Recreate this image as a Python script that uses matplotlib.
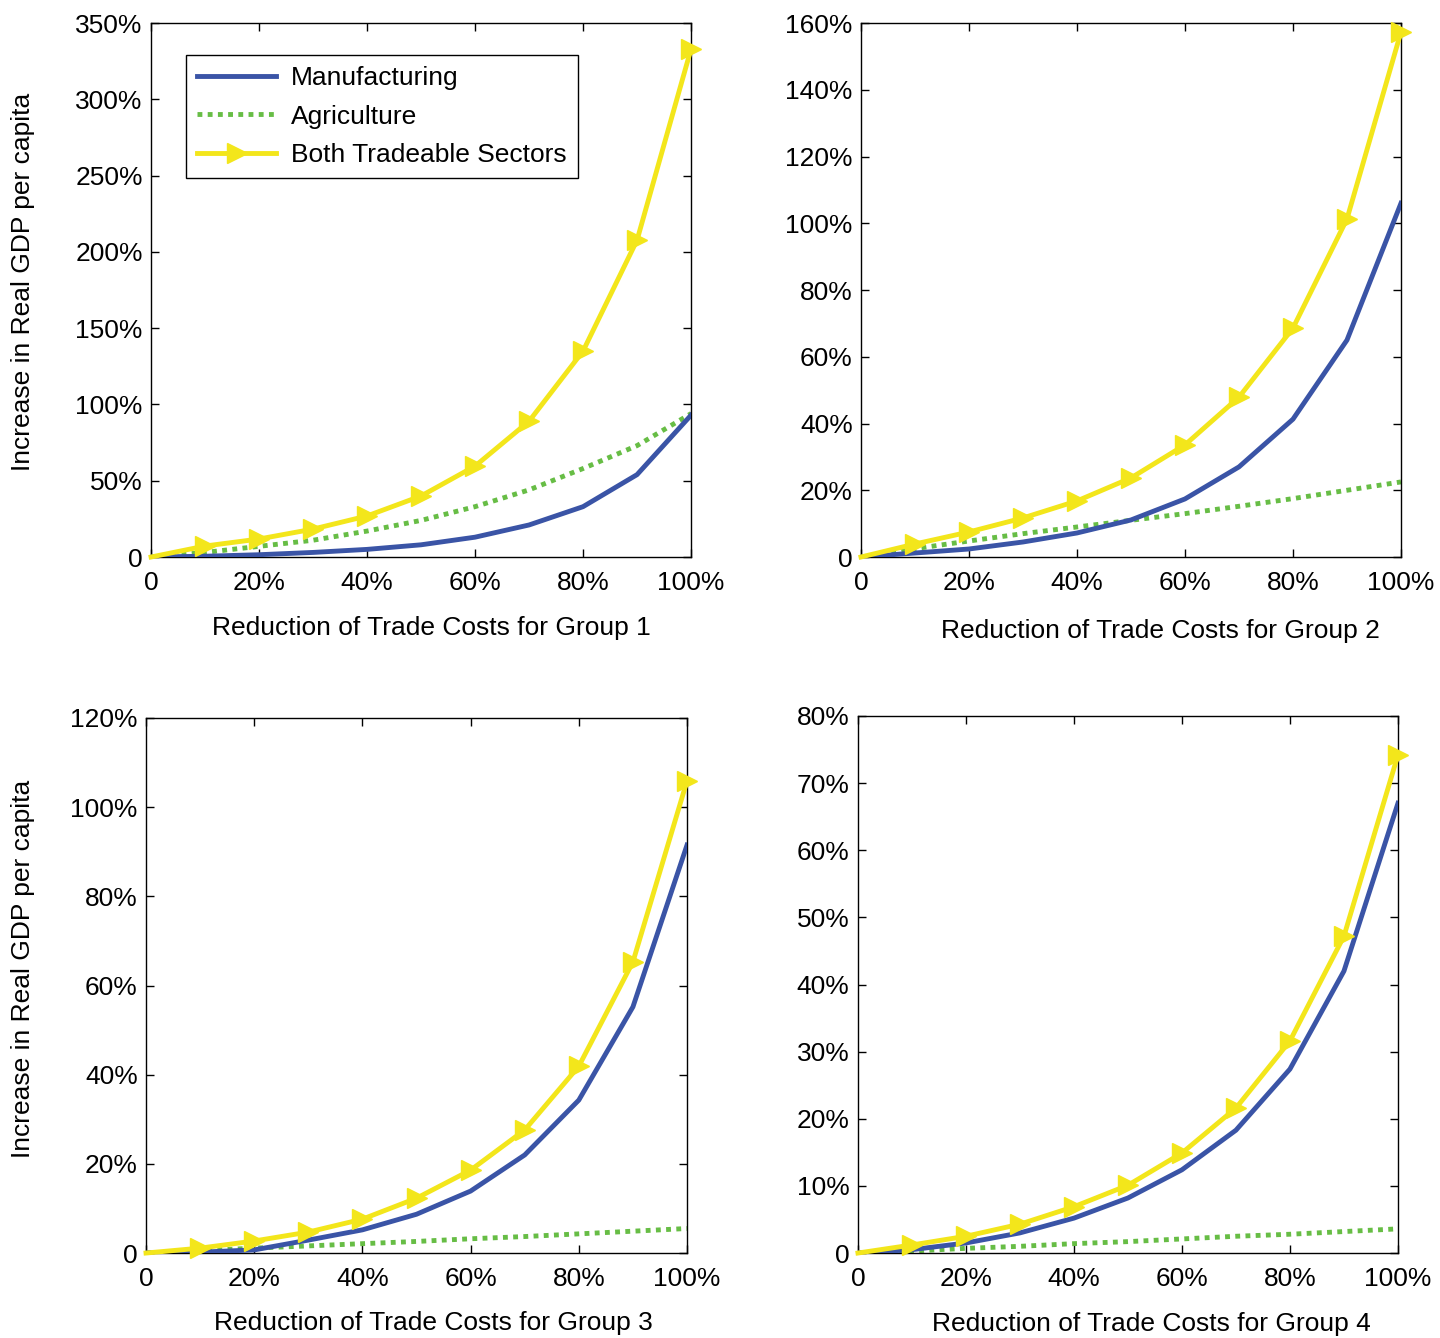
import numpy as np
import matplotlib.pyplot as plt
from matplotlib.ticker import FuncFormatter

# reduction of trade costs (%)
cuts = [0, 10, 20, 30, 40, 50, 60, 70, 80, 90, 100]

# increase in real GDP per capita (%), by group
manuf_g1 = [0, 0.5, 1.5, 3, 5, 8, 13, 21, 33, 54, 93]
agri_g1 = [0, 3, 7, 11, 17, 24, 33, 44, 58, 73, 94]
both_g1 = [0, 7.2, 11.8, 18.3, 26.9, 40, 59.6, 89, 135, 207.7, 333]

manuf_g2 = [0, 1.2, 2.4, 4.5, 7.2, 11.1, 17.4, 27, 41.3, 65, 106]
agri_g2 = [0, 2.5, 4.8, 7, 9, 11, 13, 15.2, 17.5, 20, 22.5]
both_g2 = [0, 3.9, 7.5, 11.7, 16.8, 23.7, 33.6, 47.9, 68.6, 101.3, 157.3]

manuf_g3 = [0, 0.2, 0.7, 2.9, 5.2, 8.7, 13.9, 22, 34.3, 55.2, 91.5]
agri_g3 = [0, 0.5, 1.1, 1.6, 2.1, 2.6, 3.2, 3.7, 4.3, 4.9, 5.5]
both_g3 = [0, 1.1, 2.7, 4.7, 7.6, 12.3, 18.6, 27.6, 41.9, 65.3, 105.9]

manuf_g4 = [0, 0.5, 1.5, 3.0, 5.2, 8.2, 12.4, 18.3, 27.4, 42, 67]
agri_g4 = [0, 0.3, 0.7, 1.0, 1.4, 1.7, 2.1, 2.5, 2.8, 3.2, 3.6]
both_g4 = [0, 1.2, 2.5, 4.3, 6.9, 10.1, 14.9, 21.6, 31.6, 47.2, 74.2]

ymax = [350, 160, 120, 80]
ystep = [50, 20, 20, 10]

BLUE = '#3a54a6'
GREEN = '#67bd45'
YELLOW = '#f3e61b'
FS = 19

plt.rcParams['font.family'] = ['Liberation Sans', 'DejaVu Sans']
plt.rcParams['font.size'] = FS

fig = plt.figure(figsize=(14.4, 13.38), dpi=100)
boxes = [
    [0.1049, 0.5837, 0.3750, 0.3991],
    [0.5979, 0.5837, 0.3750, 0.3991],
    [0.1014, 0.0635, 0.3757, 0.3999],
    [0.5958, 0.0635, 0.3750, 0.4014],
]
series = [
    (manuf_g1, agri_g1, both_g1),
    (manuf_g2, agri_g2, both_g2),
    (manuf_g3, agri_g3, both_g3),
    (manuf_g4, agri_g4, both_g4),
]
# label centres in axes coordinates
xlab_pos = [(0.520, -0.133), (0.554, -0.139), (0.532, -0.131), (0.544, -0.132)]
ylab_pos = {0: (-0.238, 0.516), 2: (-0.228, 0.531)}

pct = FuncFormatter(lambda v, p: '0' if v == 0 else '%d%%' % v)

for i, (box, (m, a, b)) in enumerate(zip(boxes, series)):
    ax = fig.add_axes(box)
    ax.plot(cuts, m, color=BLUE, lw=3.5, label='Manufacturing', zorder=3)
    ax.plot(cuts, a, color=GREEN, lw=3.5, linestyle=(0, (1.0, 1.1)),
            dash_capstyle='butt', label='Agriculture', zorder=2)
    ax.plot(cuts, b, color=YELLOW, lw=3.5, marker='>', markersize=14,
            markevery=list(range(1, 11)), label='Both Tradeable Sectors',
            clip_on=False, zorder=4)
    ax.set_xlim(0, 100)
    ax.set_ylim(0, ymax[i])
    ax.set_xticks(range(0, 101, 20))
    ax.set_yticks(np.arange(0, ymax[i] + 1, ystep[i]))
    ax.xaxis.set_major_formatter(pct)
    ax.yaxis.set_major_formatter(pct)
    ax.tick_params(direction='in', length=6, width=1, top=True, right=True,
                   labelsize=FS)
    ax.tick_params(axis='x', pad=10)
    ax.tick_params(axis='y', pad=6)
    for s in ax.spines.values():
        s.set_linewidth(1.0)
    ax.set_xlabel('Reduction of Trade Costs for Group %d' % (i + 1), fontsize=FS)
    ax.xaxis.set_label_coords(*xlab_pos[i])
    ax.xaxis.label.set_va('center')
    if i in ylab_pos:
        ax.set_ylabel('Increase in Real GDP per capita', fontsize=FS)
        ax.yaxis.set_label_coords(*ylab_pos[i])
        ax.yaxis.label.set_va('center')
    if i == 0:
        leg = ax.legend(loc='upper left', bbox_to_anchor=(0.065, 0.94),
                        borderaxespad=0, fancybox=False, edgecolor='black',
                        framealpha=1, fontsize=FS, handlelength=3.0,
                        borderpad=0.42, labelspacing=0.55, handletextpad=0.55)
        leg.get_frame().set_linewidth(1.0)

fig.savefig('out.png', dpi=100)
